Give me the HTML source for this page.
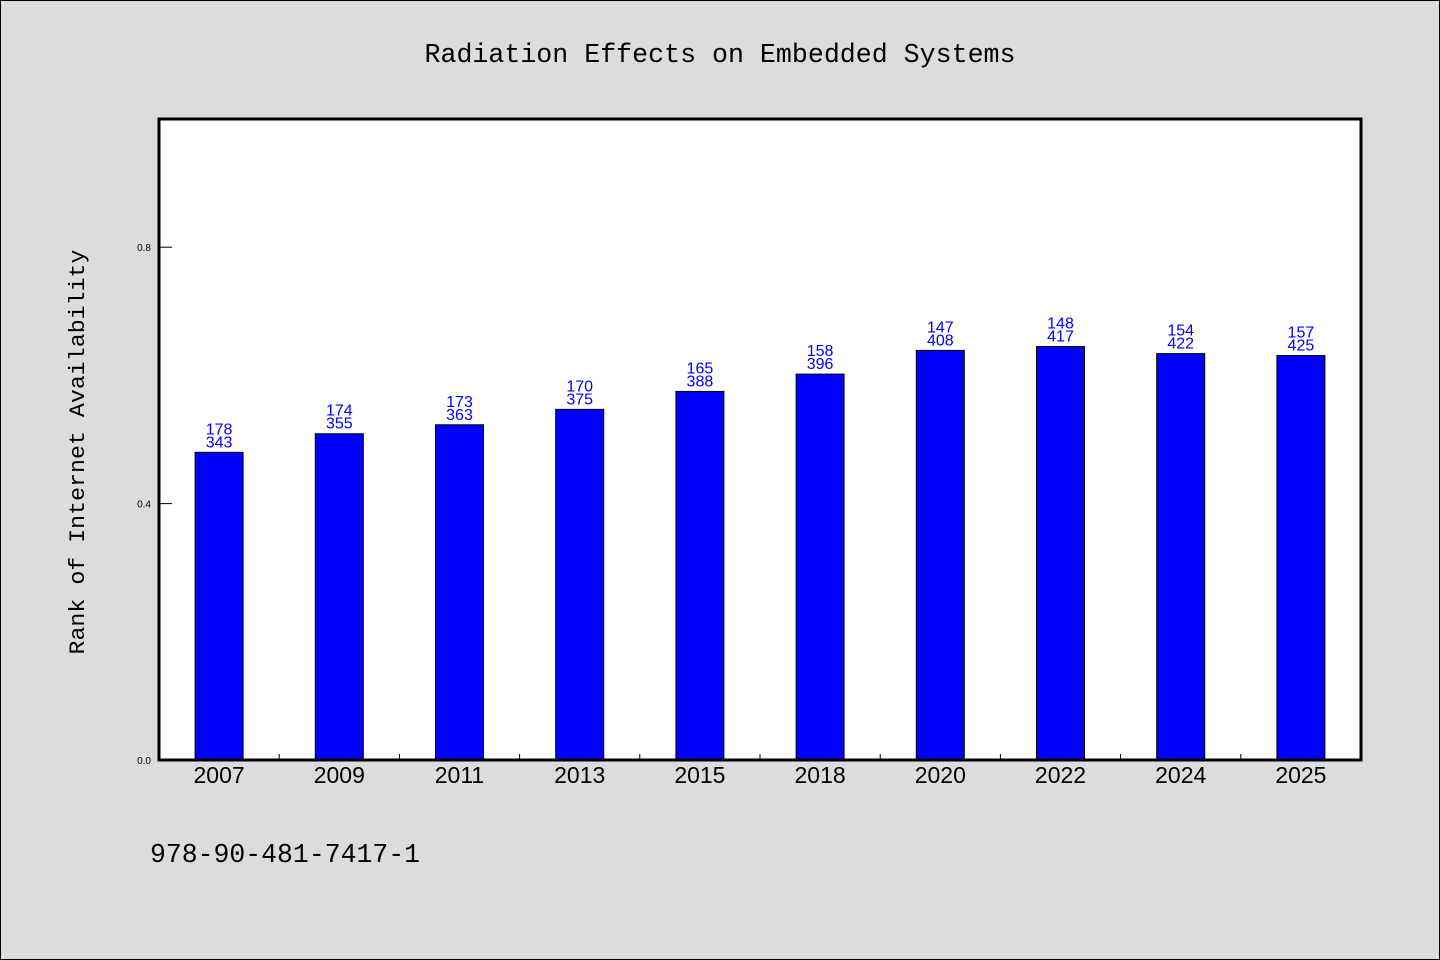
<!DOCTYPE html>
<html><head><meta charset="utf-8"><style>
html,body{margin:0;padding:0;background:#dcdcdc;}
svg{display:block;}
.mono{font-family:"WenQuanYi Zen Hei Mono","WenQuanYi Zen Hei","Liberation Mono",monospace;}
.sans{font-family:"Liberation Sans","DejaVu Sans",sans-serif;}
</style></head><body>
<svg id="chart" width="1440" height="960" xmlns="http://www.w3.org/2000/svg">
<rect x="0.5" y="0.5" width="1439" height="959" fill="#dcdcdc" stroke="#000"/>
<text class="mono" x="720" y="62" font-size="27" text-anchor="middle" textLength="591" lengthAdjust="spacingAndGlyphs">Radiation Effects on Embedded Systems</text>
<rect x="159" y="119" width="1202" height="641" fill="#fff"/>
<g id="bars"></g>
<g id="ticks"></g>
<rect x="159" y="119" width="1202" height="641" fill="none" stroke="#000" stroke-width="3"/>
<text class="mono" transform="translate(84,452) rotate(-90)" font-size="22" text-anchor="middle" textLength="405" lengthAdjust="spacingAndGlyphs">Rank of Internet Availability</text>
<text class="mono" x="150" y="862" font-size="27" textLength="270" lengthAdjust="spacingAndGlyphs">978-90-481-7417-1</text>
</svg>
<script>
const categories=["2007","2009","2011","2013","2015","2018","2020","2022","2024","2025"];
const values=[0.480,0.509,0.523,0.547,0.575,0.602,0.639,0.645,0.634,0.631];
const topLabels=["178","174","173","170","165","158","147","148","154","157"];
const bottomLabels=["343","355","363","375","388","396","408","417","422","425"];
const yTicks=[0.0,0.4,0.8];
const yTickLabels=["0.0","0.4","0.8"];

const NS="http://www.w3.org/2000/svg";
const X0=159,X1=1361,Y0=760,Y1=119,YMAX=1.0;
const band=(X1-X0)/categories.length;
const xc=i=>X0+band*(i+0.5);
const ys=v=>Y0-(v/YMAX)*(Y0-Y1);
function mk(tag,attrs,parent,txt){const e=document.createElementNS(NS,tag);for(const k in attrs)e.setAttribute(k,attrs[k]);if(txt!==undefined)e.textContent=txt;parent.appendChild(e);return e;}
const bars=document.getElementById('bars'),ticks=document.getElementById('ticks');
const bw=48;
categories.forEach((c,i)=>{
  const y=ys(values[i]);
  const r=mk('rect',{x:xc(i)-bw/2,y:y,width:bw,height:Y0-y,fill:'#0000ff',stroke:'#000','stroke-width':1},bars);
  
  
  const t1=mk('text',{x:xc(i),y:y-18,'font-size':16,fill:'#0000ff','text-anchor':'middle',class:'sans'},bars,topLabels[i]);
  
  
  const t2=mk('text',{x:xc(i),y:y-5,'font-size':16,fill:'#0000ff','text-anchor':'middle',class:'sans'},bars,bottomLabels[i]);
  
  
  const xl=mk('text',{x:xc(i),y:783,'font-size':23,fill:'#000','text-anchor':'middle',class:'sans'},ticks,c);
  
  
  if(i>0){
    const tk=mk('line',{x1:X0+band*i,x2:X0+band*i,y1:Y0,y2:Y0-6,stroke:'#000','stroke-width':1},ticks);
    
    
  }
});
yTicks.forEach((v,i)=>{
  const y=ys(v);
  const l=mk('line',{x1:X0,x2:X0+13,y1:y,y2:y,stroke:'#000','stroke-width':1},ticks);
  
  
  const t=mk('text',{x:151,y:y+4,'font-size':10,'text-anchor':'end',class:'sans'},ticks,yTickLabels[i]);
  
  
});
</script>
</body></html>
